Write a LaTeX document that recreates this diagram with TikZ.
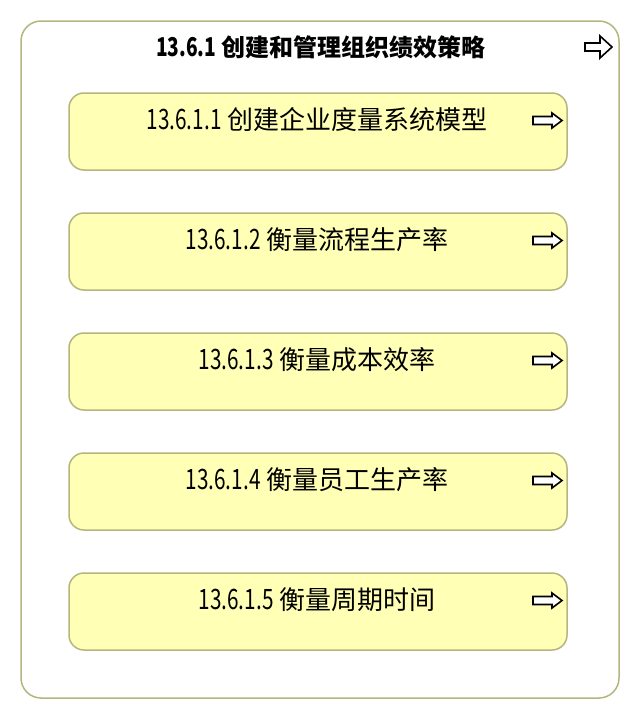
\documentclass[tikz,border=0pt]{standalone}
\usepackage{fontspec}
\usepackage{graphicx}
\setmainfont{Noto Sans CJK SC}
\definecolor{boxfill}{HTML}{FFFFB5}
\definecolor{boxline}{HTML}{B5B57F}
\newcommand{\dignum}[1]{\scalebox{0.8}[1.08]{#1}}
\tikzset{
  outerbox/.style={draw=boxline, line width=1.5pt, fill=white, rounded corners=20pt},
  innerbox/.style={draw=boxline, line width=1.5pt, fill=boxfill, rounded corners=15pt},
  boxlabel/.style={font=\fontsize{26}{28}\selectfont, inner sep=0pt, anchor=center},
  titlelabel/.style={font=\fontsize{24}{26}\selectfont\bfseries, inner sep=0pt, anchor=center},
  hollowarrow/.style={draw=black, line width=1.6pt, fill=white, line join=miter}
}
\begin{document}
\begin{tikzpicture}[x=1pt,y=-1pt]
\useasboundingbox (0,0) rectangle (640,720);
\draw[outerbox] (21,21) rectangle (619,698);
\node[titlelabel] (title) at (321,47) {\dignum{13.6.1} 创建和管理组织绩效策略};
% top-right arrow
\draw[hollowarrow] (585,43) -- (600,43) -- (600,36) -- (612,47) -- (600,58) -- (600,51) -- (585,51) -- cycle;
\foreach \i/\n/\t in {0/13.6.1.1/创建企业度量系统模型,1/13.6.1.2/衡量流程生产率,2/13.6.1.3/衡量成本效率,3/13.6.1.4/衡量员工生产率,4/13.6.1.5/衡量周期时间}{
  \pgfmathsetmacro{\top}{93+120*\i}
  \draw[innerbox] (69,\top) rectangle (567,\top+77);
  \node[boxlabel] (lab\i) at (317,\top+27) {\dignum{\n} \t};
  \draw[hollowarrow] (533,\top+23.5) -- (552,\top+23.5) -- (552,\top+20) -- (562,\top+27.5) -- (552,\top+35) -- (552,\top+31.5) -- (533,\top+31.5) -- cycle;
}
\end{tikzpicture}
\end{document}
